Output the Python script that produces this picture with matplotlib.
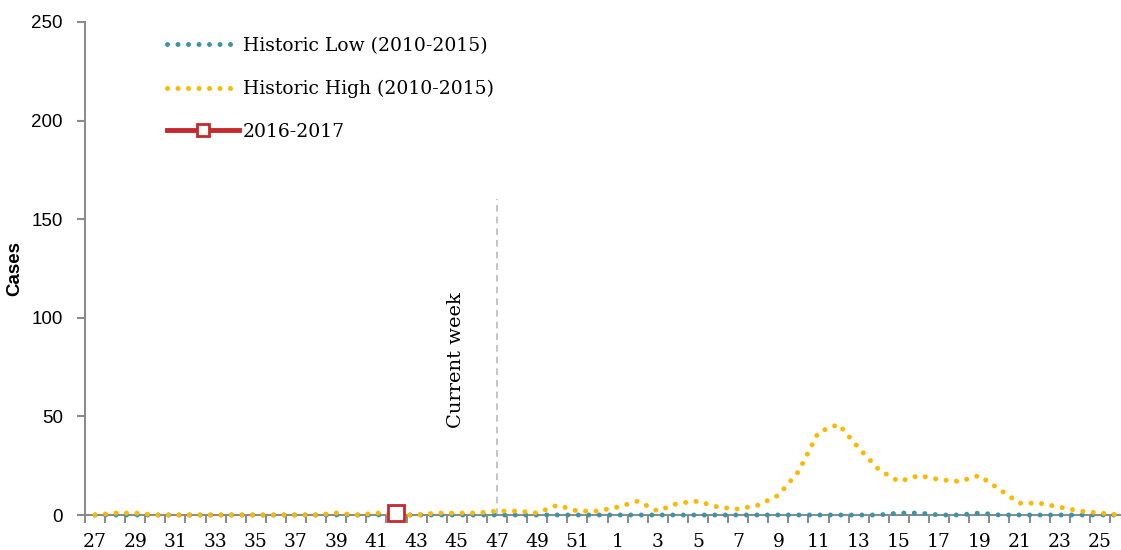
import numpy as np
import matplotlib.pyplot as plt
from matplotlib.lines import Line2D

# Week labels (season runs week 27 through week 26)
weeks = list(range(27, 53)) + list(range(1, 27))

# Historic high (2010-2015)
high = [0, 1, 1, 0, 0, 0, 0, 0, 0, 0, 0, 0, 1, 0, 1, 0, 0, 1, 1, 1,
        2, 2, 1, 5, 2, 2,
        4, 7, 2, 6, 7, 4, 3, 5, 10, 22, 42, 46, 34, 23, 17, 20, 18, 17, 20, 13,
        6, 6, 4, 2, 1, 0]

# Historic low (2010-2015)
low = [0] * 40 + [1, 1, 0, 0, 1] + [0] * 7

# 2016-2017 season (only week 42 reported)
current = [np.nan] * 15 + [1] + [np.nan] * 36

current_week = 47

teal = '#3A95A7'
orange = '#FFB800'
red = '#C6282D'
grey = '#8C8C8C'

x = np.arange(len(weeks))

fig = plt.figure(figsize=(11.21, 5.5), dpi=100)
ax = fig.add_axes([85 / 1121, 35 / 550, 1045 / 1121, 493 / 550])

dot = (0, (0.001, 2.1))
ax.plot(x, low, color=teal, lw=3.6, linestyle=dot, dash_capstyle='round', zorder=3, clip_on=False)
ax.plot(x, high, color=orange, lw=3.6, linestyle=dot, dash_capstyle='round', zorder=4, clip_on=False)
ax.plot(x, current, color=red, lw=3.5, marker='s', markersize=11,
        markerfacecolor='white', markeredgecolor=red, markeredgewidth=2, zorder=5, clip_on=False)

# current week marker
cw = weeks.index(current_week)
ax.plot([cw, cw], [0, 160], color='#BBBBBB', lw=1.2, linestyle=(0, (4, 3)), zorder=2)
ax.text(cw - 2.05, 44, 'Current week', rotation=90, ha='center', va='bottom',
        family='DejaVu Serif', fontsize=14)

ax.set_xlim(-0.5, 51.5)
ax.set_ylim(0, 250)
ax.set_xticks(x[::2])
ax.set_xticklabels([str(w) for w in weeks[::2]], family='DejaVu Serif', fontsize=13.5)
ax.set_xticks(np.arange(-0.5, 51.5, 1), minor=True)
ax.tick_params(axis='x', which='major', length=0, pad=13)
ax.tick_params(axis='x', which='minor', length=6, width=1.5, color=grey, direction='out')
ax.set_yticks(np.arange(0, 251, 50))
ax.tick_params(axis='y', length=6, width=1.5, color=grey, pad=10)
for lab in ax.get_yticklabels():
    lab.set_family('Liberation Sans')
    lab.set_fontsize(13.5)

ax.set_ylabel('Cases', family='Liberation Sans', fontsize=13.5, fontweight='bold', labelpad=6)

for s in ['top', 'right']:
    ax.spines[s].set_visible(False)
for s in ['left', 'bottom']:
    ax.spines[s].set_color(grey)
    ax.spines[s].set_linewidth(1.5)

handles = [
    Line2D([], [], color=teal, lw=3.6, linestyle=dot, dash_capstyle='round'),
    Line2D([], [], color=orange, lw=3.6, linestyle=dot, dash_capstyle='round'),
    Line2D([], [], color=red, lw=3.5, marker='s', markersize=9,
           markerfacecolor='white', markeredgecolor=red, markeredgewidth=2),
]
labels = ['Historic Low (2010-2015)', 'Historic High (2010-2015)', '2016-2017']
ax.legend(handles, labels, loc='upper left', bbox_to_anchor=(150 / 1121, 1 - 20 / 550),
          bbox_transform=fig.transFigure, frameon=False, handlelength=3.85,
          handletextpad=0.2, labelspacing=1.33, prop={'family': 'DejaVu Serif', 'size': 13.5})

fig.savefig('out.png', dpi=100)
